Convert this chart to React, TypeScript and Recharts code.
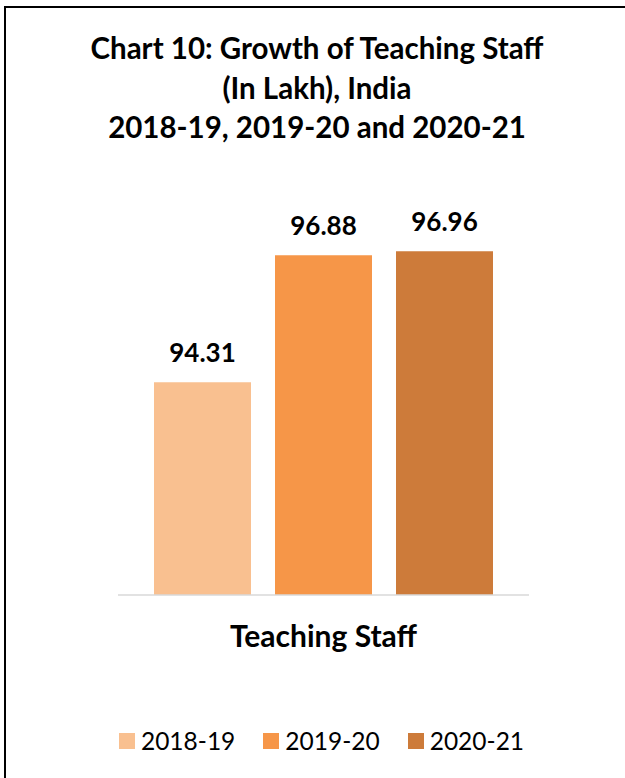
import React from 'react';
import { BarChart, Bar, XAxis, YAxis, Legend, LabelList } from 'recharts';

const categories = ['Teaching Staff'];
const series = ['2018-19', '2019-20', '2020-21'];
const values2018 = [94.31];
const values2019 = [96.88];
const values2020 = [96.96];
const colors = ['#F9C090', '#F69648', '#CD7B3A'];
const titleLines = ['Chart 10: Growth of Teaching Staff', '(In Lakh), India', '2018-19, 2019-20 and 2020-21'];

const data = categories.map((c, i) => ({
  name: c,
  [series[0]]: values2018[i],
  [series[1]]: values2019[i],
  [series[2]]: values2020[i],
}));

const FONT = 'Lato, "Open Sans", sans-serif';

const CategoryTick = (props: any) => {
  const { x, y, payload } = props;
  return (
    <text x={x} y={y + 52} textAnchor="middle" fontFamily={FONT} fontWeight={700} fontSize={30} fill="#000">
      {payload.value}
    </text>
  );
};

const LegendContent = (props: any) => {
  const { payload } = props;
  return (
    <div style={{ display: 'flex', justifyContent: 'center', alignItems: 'center', fontFamily: FONT, fontSize: 24.5, color: '#000' }}>
      {(payload || []).map((p: any, i: number) => (
        <div key={i} style={{ display: 'flex', alignItems: 'center', marginRight: i < payload.length - 1 ? 28 : 0 }}>
          <span style={{ display: 'inline-block', width: 16, height: 16, background: p.color, marginRight: 6 }} />
          <span style={{ lineHeight: '30px' }}>{p.value}</span>
        </div>
      ))}
    </div>
  );
};

export default function App() {
  return (
    <div style={{ position: 'absolute', left: 0, top: 0, width: 625, height: 778, overflow: 'hidden', background: '#fff' }}>
      <div style={{ position: 'absolute', left: 4, top: 6, width: 700, height: 900, borderLeft: '2px solid #000', borderTop: '2px solid #000' }} />
      <div style={{ position: 'absolute', left: 0, top: 28, width: 634, textAlign: 'center', fontFamily: FONT, fontWeight: 700, fontSize: 29.5, color: '#000' }}>
        {titleLines.map((t, i) => (
          <div key={i} style={{ lineHeight: '39.5px', height: 39.5 }}>{t}</div>
        ))}
      </div>
      <div style={{ position: 'absolute', left: 0, top: 0 }}>
        <BarChart
          width={625}
          height={778}
          data={data}
          margin={{ top: 200, right: 96, left: 118, bottom: 123 }}
          barCategoryGap={36}
          barGap={24}
        >
          <XAxis
            dataKey="name"
            height={60}
            tickLine={false}
            tickSize={0}
            tickMargin={0}
            axisLine={{ stroke: '#d9d9d9', strokeWidth: 1.5 }}
            tick={<CategoryTick />}
          />
          <YAxis hide domain={[90, 98]} />
          <Legend
            layout="horizontal"
            verticalAlign="middle"
            align="center"
            wrapperStyle={{ top: 726, left: 0, width: 643 }}
            content={<LegendContent />}
          />
          {series.map((s, i) => (
            <Bar key={s} dataKey={s} fill={colors[i]} isAnimationActive={false}>
              <LabelList dataKey={s} position="top" offset={20} fontFamily={FONT} fontWeight={700} fontSize={26} fill="#000" />
            </Bar>
          ))}
        </BarChart>
      </div>
    </div>
  );
}
